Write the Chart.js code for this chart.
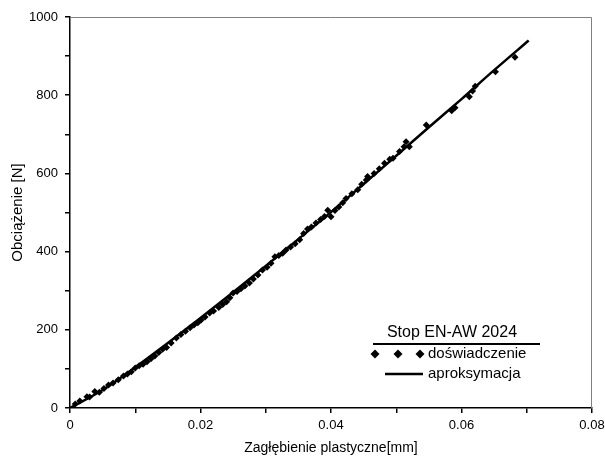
<!DOCTYPE html>
<html>
<head>
<meta charset="utf-8">
<script src="https://cdn.jsdelivr.net/npm/chart.js@4.4.0/dist/chart.umd.min.js"></script>
<style>
  body { margin: 0; background: #fff; }
  #wrap { width: 605px; height: 459px; }
</style>
</head>
<body>
<div id="wrap"><canvas id="chart" width="605" height="459"></canvas></div>
<script>
// measured points (x = plastic indentation [mm], y = load [N])
const expX = [
  0.0008, 0.0015, 0.0026, 0.0030, 0.0038, 0.0045, 0.0052, 0.0059, 0.0066, 0.0074,
  0.0082, 0.0088, 0.0094, 0.0100, 0.0106, 0.0112, 0.0118, 0.0124, 0.0130, 0.0136,
  0.0142, 0.0148, 0.0155, 0.0163, 0.0170, 0.0177, 0.0184, 0.0190, 0.0196, 0.0201,
  0.0207, 0.0214, 0.0220, 0.0228, 0.0234, 0.0240, 0.0245, 0.0250, 0.0256, 0.0262,
  0.0268, 0.0275, 0.0281, 0.0288, 0.0295, 0.0302, 0.0308, 0.0314, 0.0320, 0.0326,
  0.0331, 0.0338, 0.0345, 0.0352, 0.0358, 0.0364, 0.0370, 0.0377, 0.0384, 0.0390,
  0.0395, 0.0400, 0.0406, 0.0412, 0.0418, 0.0423, 0.0432, 0.0441, 0.0447, 0.0454,
  0.0456, 0.0466, 0.0474, 0.0482, 0.0490, 0.0495, 0.0505, 0.0512, 0.0515, 0.0520,
  0.0546, 0.0585, 0.0590, 0.0612, 0.0617, 0.0621, 0.0652, 0.0682
]
const expY = [
  10, 18, 29, 28, 42, 40, 50, 59, 64, 72,
  82, 87, 93, 102, 108, 112, 118, 126, 133, 142,
  150, 155, 166, 179, 188, 196, 205, 212, 218, 225,
  233, 243, 248, 257, 265, 272, 282, 294, 298, 305,
  312, 320, 330, 340, 353, 360, 370, 387, 390, 396,
  404, 412, 420, 430, 446, 458, 463, 473, 482, 490,
  506, 489, 505, 514, 525, 536, 548, 558, 572, 583,
  592, 600, 612, 626, 636, 639, 656, 668, 681, 668,
  724, 760, 768, 796, 811, 823, 860, 897
]

// approximation curve
const fitX = [0, 0.005, 0.01, 0.015, 0.02, 0.025, 0.03, 0.035, 0.04, 0.045, 0.05, 0.055, 0.06, 0.065, 0.0703]
const fitY = [0, 46, 104, 166, 230, 296, 363, 432, 501, 573, 645, 718, 790, 864, 940]

const legendTitle = 'Stop EN-AW 2024'
const seriesNames = ['doświadczenie', 'aproksymacja']

const font = 'Liberation Sans, Arial, sans-serif'

// frame on top/right + legend box inside plot
const extras = {
  id: 'extras',
  afterDraw(chart) {
    const { ctx, chartArea: a } = chart
    ctx.save()
    ctx.strokeStyle = '#808080'
    ctx.lineWidth = 1
    ctx.beginPath()
    ctx.moveTo(a.left, a.top + 0.5)
    ctx.lineTo(a.right - 0.5, a.top + 0.5)
    ctx.lineTo(a.right - 0.5, a.bottom)
    ctx.stroke()

    ctx.fillStyle = '#000'
    ctx.strokeStyle = '#000'
    ctx.font = '16px ' + font
    ctx.textBaseline = 'middle'
    ctx.textAlign = 'center'
    ctx.fillText(legendTitle, 452, 333)
    ctx.lineWidth = 2
    ctx.beginPath()
    ctx.moveTo(373, 344)
    ctx.lineTo(540, 344)
    ctx.stroke()

    ctx.textAlign = 'left'
    ctx.font = '15px ' + font
    ;[375, 398, 420].forEach(x => {
      ctx.beginPath()
      ctx.moveTo(x, 349.5)
      ctx.lineTo(x + 4.5, 354)
      ctx.lineTo(x, 358.5)
      ctx.lineTo(x - 4.5, 354)
      ctx.closePath()
      ctx.fill()
    })
    ctx.fillText(seriesNames[0], 428, 354)
    ctx.lineWidth = 2.5
    ctx.beginPath()
    ctx.moveTo(385, 374)
    ctx.lineTo(423, 374)
    ctx.stroke()
    ctx.fillText(seriesNames[1], 428, 374)
    ctx.restore()
  }
}

let chart = new Chart(document.querySelector('#chart'), {
  type: 'scatter',
  plugins: [extras],
  data: {
    datasets: [{
      label: seriesNames[0],
      data: expX.map((x, i) => ({ x: x, y: expY[i] })),
      pointStyle: 'rectRot',
      pointRadius: 3.5,
      backgroundColor: '#000',
      borderColor: '#000',
      borderWidth: 0,
      showLine: false
    }, {
      label: seriesNames[1],
      data: fitX.map((x, i) => ({ x: x, y: fitY[i] })),
      showLine: true,
      borderColor: '#000',
      borderWidth: 2.5,
      pointRadius: 0,
      cubicInterpolationMode: 'monotone'
    }]
  },
  options: {
    responsive: false,
    animation: false,
    layout: {
      padding: { top: 17, right: 0, left: 0, bottom: 0 }
    },
    plugins: {
      legend: { display: false },
      tooltip: { enabled: false }
    },
    scales: {
      x: {
        type: 'linear',
        min: 0,
        max: 0.08,
        afterFit(scale) {
          scale.height = 51
          scale.paddingRight = 13
        },
        border: { color: '#000', width: 1.5 },
        grid: {
          drawOnChartArea: false,
          color: '#000',
          tickLength: 5,
          lineWidth: 1.5
        },
        ticks: {
          stepSize: 0.01,
          padding: 5,
          color: '#000',
          font: { family: font, size: 13 },
          maxRotation: 0,
          autoSkip: false,
          callback: function (value) {
            const k = Math.round(value * 100)
            if (k % 2 !== 0) return ''
            return k === 0 ? '0' : String(k / 100)
          }
        },
        title: {
          display: true,
          text: 'Zagłębienie plastyczne[mm]',
          color: '#000',
          font: { family: font, size: 14 },
          padding: { top: 0, bottom: 2 }
        }
      },
      y: {
        min: 0,
        max: 1000,
        afterFit(scale) { scale.width = 70 },
        border: { color: '#000', width: 1.5 },
        grid: {
          drawOnChartArea: false,
          color: '#000',
          tickLength: 5,
          lineWidth: 1.5
        },
        ticks: {
          stepSize: 100,
          padding: 7,
          color: '#000',
          font: { family: font, size: 13 },
          autoSkip: false,
          callback: function (value) {
            return value % 200 === 0 ? String(value) : ''
          }
        },
        title: {
          display: true,
          text: 'Obciążenie [N]',
          color: '#000',
          font: { family: font, size: 15 },
          padding: { top: 9, bottom: 0 }
        }
      }
    }
  }
})
</script>
</body>
</html>
